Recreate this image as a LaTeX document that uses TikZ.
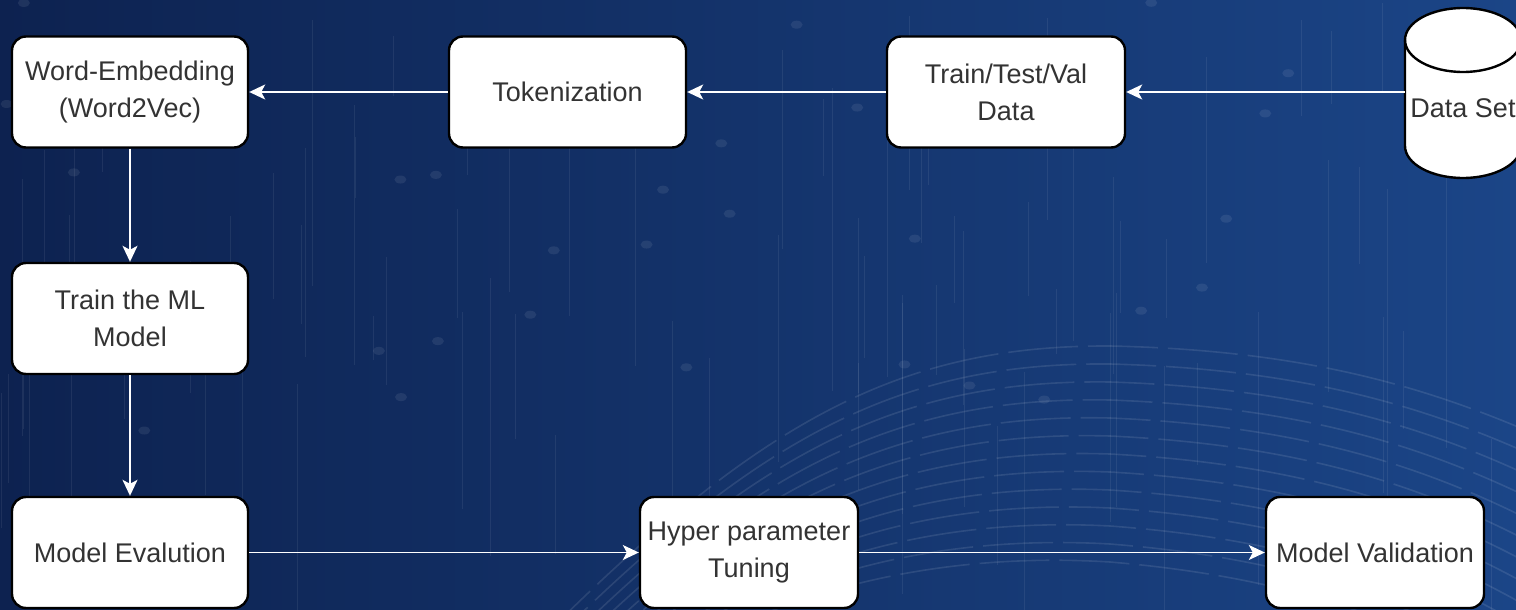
\documentclass[tikz,border=0pt]{standalone}
\usepackage{fontspec}
\setmainfont{Liberation Sans}
\usetikzlibrary{arrows.meta,shapes.geometric,shadows}
\definecolor{bgleft}{HTML}{0D2250}
\definecolor{bgright}{HTML}{1B4587}
\definecolor{txt}{HTML}{333333}
\tikzset{
  box/.style={draw=black, line width=2.4pt, fill=white, rounded corners=14pt,
    minimum height=111pt, align=center, text=txt, inner sep=2pt,
    font=\fontsize{27}{37}\selectfont},
  flow/.style={draw=white, line width=1.6pt, -{Stealth[length=16pt,width=15pt,inset=4pt]}},
  decor/.style={draw=white, line width=1pt, opacity=0.07},
  decordot/.style={fill=white, opacity=0.08},
  wave/.style={draw=white, line width=1.6pt, opacity=0.10, dash pattern=on 70pt off 10pt}
}
\begin{document}
\begin{tikzpicture}[x=1pt,y=-1pt]
\useasboundingbox (0,0) rectangle (1516,610);
\begin{scope}
\clip (0,0) rectangle (1516,610);
\shade[left color=bgleft, right color=bgright] (0,0) rectangle (1516,610);
% decorative vertical lines and dots
\pgfmathsetseed{11}
\foreach \i in {1,...,80} {
  \pgfmathsetmacro\xx{rnd*1516}
  \pgfmathsetmacro\ya{rnd*450}
  \pgfmathsetmacro\yb{\ya+40+rnd*280}
  \draw[decor] (\xx,\ya) -- (\xx,\yb);
}
\foreach \i in {1,...,35} {
  \pgfmathsetmacro\xx{rnd*1300}
  \pgfmathsetmacro\ya{rnd*480}
  \fill[decordot] (\xx,\ya) ellipse (6 and 4);
}
% decorative wave
\foreach \k in {0,...,12} {
  \draw[wave, dash phase=\k*23pt]
    (540+\k*14, 640) .. controls (760, 420+\k*16) and (900, 345+\k*17) .. (1110, 346+\k*18)
    .. controls (1300, 350+\k*19) and (1420, 385+\k*20) .. (1530, 432+\k*22);
}
\end{scope}

% nodes
\node[box, minimum width=236pt] (we)  at (130,92)    {Word-Embedding\\(Word2Vec)};
\node[box, minimum width=237pt] (tok) at (567.5,92)  {Tokenization};
\node[box, minimum width=238pt] (ttv) at (1006,92)   {Train/Test/Val\\Data};
\node[box, minimum width=236pt] (tml) at (130,318.5) {Train the ML\\Model};
\node[box, minimum width=236pt] (me)  at (130,552.5) {Model Evalution};
\node[box, minimum width=218pt] (hpt) at (749,552.5) {Hyper parameter\\Tuning};
\node[box, minimum width=218pt] (mv)  at (1375,552.5) {Model Validation};

% data set cylinder
\node[minimum width=116pt, minimum height=170pt, inner sep=0pt] (ds) at (1463,92) {};
\draw[fill=white, line width=2.4pt, draw=black]
  (1405,40) -- (1405,146) arc[start angle=180, end angle=360, x radius=58, y radius=-32]
  -- (1521,40) arc[start angle=0, end angle=180, x radius=58, y radius=-32] -- cycle;
\draw[line width=2.4pt, draw=black] (1405,40) arc[start angle=180, end angle=360, x radius=58, y radius=-32];
\node[text=txt, font=\fontsize{27}{37}\selectfont] (dstext) at (1463,108) {Data Set};

% connectors
\draw[flow] (ds.west) -- (ttv.east);
\draw[flow] (ttv.west) -- (tok.east);
\draw[flow] (tok.west) -- (we.east);
\draw[flow] (we.south) -- (tml.north);
\draw[flow] (tml.south) -- (me.north);
\draw[flow] (me.east) -- (hpt.west);
\draw[flow] (hpt.east) -- (mv.west);
\end{tikzpicture}
\end{document}
